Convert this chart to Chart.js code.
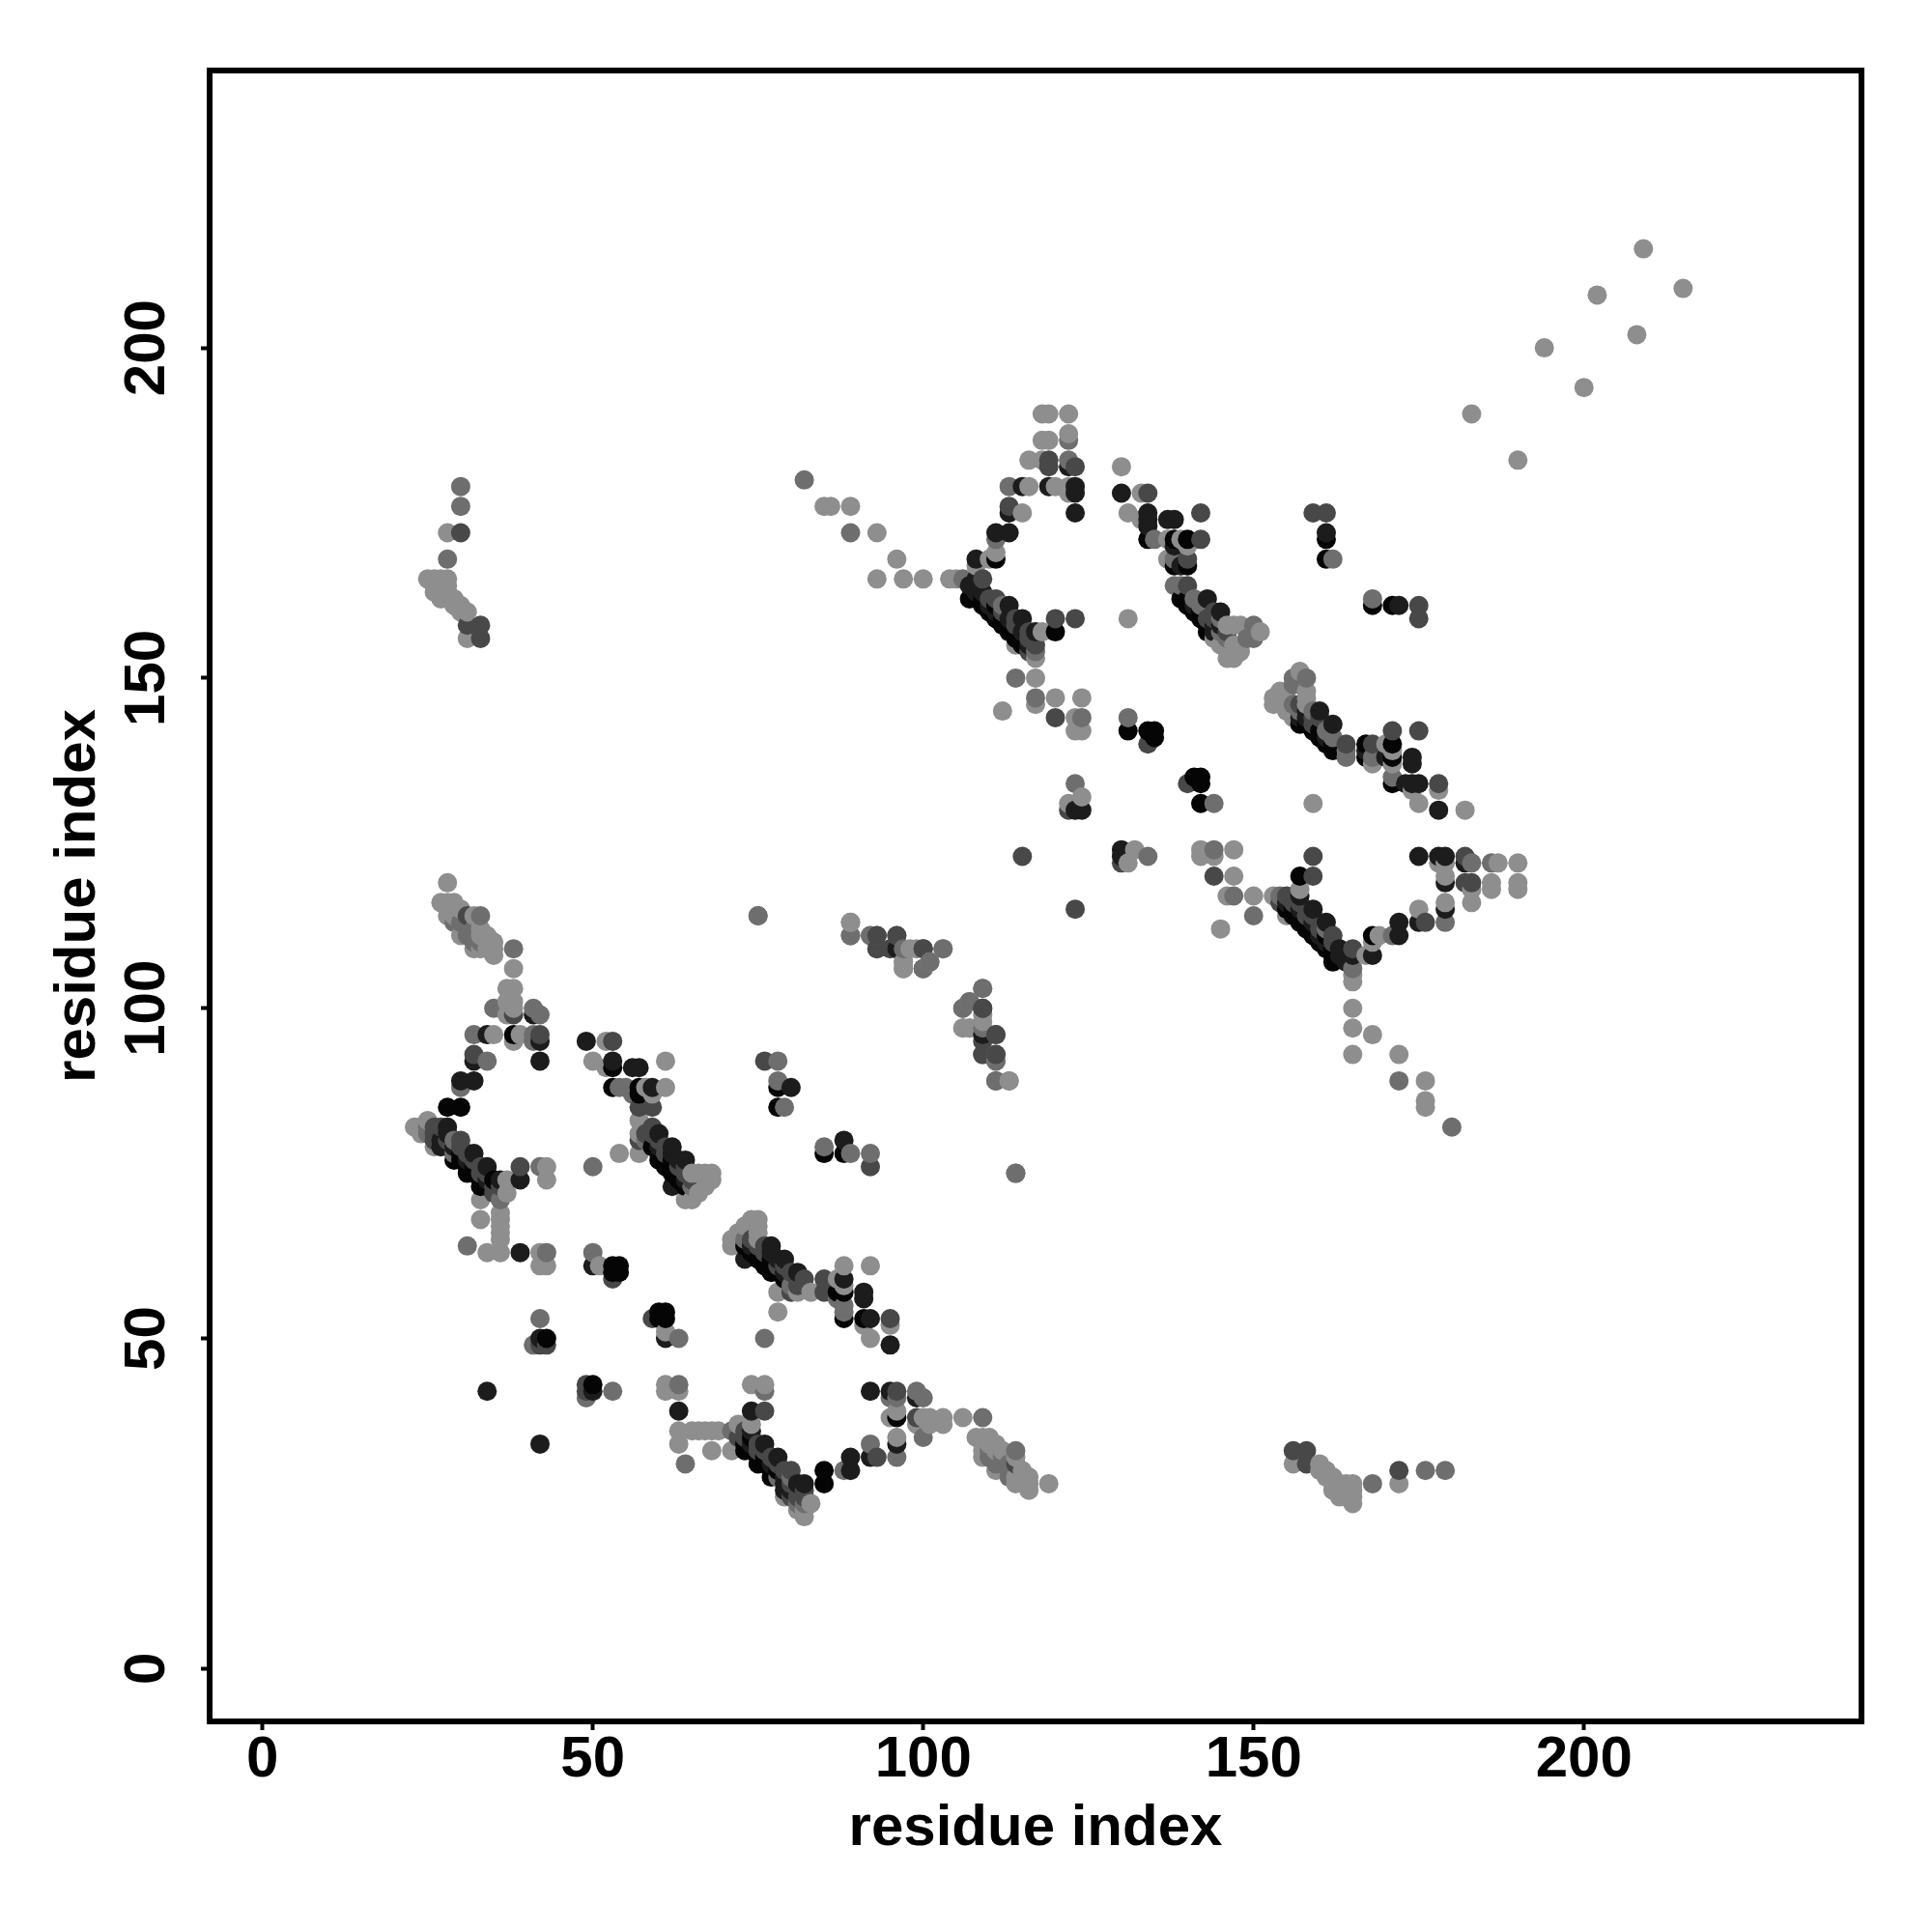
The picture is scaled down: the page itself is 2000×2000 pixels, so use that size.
<!DOCTYPE html>
<html>
<head>
<meta charset="utf-8">
<script src="https://cdn.jsdelivr.net/npm/chart.js@4"></script>
<style>
  html, body { margin: 0; padding: 0; background: #fff; }
  canvas { display: block; }
</style>
</head>
<body>
<canvas id="chart" width="2000" height="2000"></canvas>
<script>
// residue contacts [i, j], grouped by grey level
const lightContacts = [
  [28,119],[27,116],[28,116],[29,116],[28,114],[32,114],[30,111],[33,111],[35,110],[32,109],[34,109],[35,109],[35,108],[38,106],
  [29,114],[30,115],[33,112],[34,110],[34,111],[33,109],
  [37,103],[38,103],[37,101],[38,101],[38,100],[37,99],[35,96],[39,96],[38,95],
  [25,83],[23,82],[24,82],[24,81],[26,79],[37,72],[37,74],[43,76],[43,74],
  [36,69],[36,68],[36,67],[36,66],[36,65],[36,63],[33,68],[34,63],[42,63],[42,61],[43,61],[33,71],
  [52,95],[50,92],[52,91],[61,92],[59,87],[57,83],[57,81],[57,78],[54,78],[58,88],[61,88],
  [65,75],[66,75],[67,75],[68,75],[67,73],[64,71],[65,71],[66,72],[68,74],[51,61],
  [25,165],[26,165],[27,165],[28,165],[27,163],[28,162],[29,161],[30,160],[31,160],[31,156],[28,172],
  [26,164],[27,164],[28,164],[26,163],[28,163],[27,162],[29,162],[30,161],
  [85,176],[86,176],[89,176],[93,172],[96,168],[93,165],[97,165],[100,165],
  [89,113],[92,111],[97,107],[97,106],[98,109],[101,107],[103,109],[106,97],[107,97],[113,89],[109,99],
  [118,190],[119,190],[122,190],[122,187],[118,186],[119,186],[116,183],[118,183],[116,179],[120,179],[122,179],[122,178],[115,175],
  [111,169],[110,168],[108,167],[114,155],[117,153],[117,150],[117,146],[120,147],[124,147],[112,145],[123,144],[123,142],[124,142],
  [118,157],[131,159],[104,165],[105,165],[122,131],[124,132],
  [130,182],[133,178],[131,175],[133,174],[137,168],[140,170],[139,171],[137,171],
  [146,158],[147,158],[148,158],[147,155],[147,154],[146,153],[148,154],[147,153],[151,157],[145,155],[144,156],
  [183,190],[194,200],[202,208],[209,215]
];
const midContacts = [
  [30,113],[29,113],[32,111],[33,110],[33,114],[38,109],[35,100],[41,100],[42,99],[32,96],[41,96],[41,95],[34,92],[30,88],
  [31,112],[31,111],[32,112],[32,110],[31,113],
  [25,82],[25,81],[29,80],[29,78],[36,71],[42,76],[31,64],
  [50,76],[54,88],[55,88],[56,87],[65,73],[58,80],
  [43,63],[50,63],[42,53],[41,49],
  [78,92],[78,89],[79,85],
  [30,179],[30,176],[28,168],[82,180],[89,172],
  [75,114],[89,111],[93,111],[93,109],[96,111],[96,109],[100,106],[109,103],[107,101],[106,100],[109,97],[111,92],[111,89],[114,75],
  [122,186],[122,183],[113,179],[111,171],[106,165],[114,150],[117,147],[117,154],[123,134],[124,144],[131,144],[112,161],
  [135,171],[141,162],[139,164],[138,164],[150,156],[150,158],[146,156],[145,157],[149,156],[138,168],[162,168],[142,161],[145,159]
];
const darkContacts = [
  [31,114],[38,99],[42,96],[32,93],
  [26,82],[27,82],[26,81],[26,80],[30,80],[34,75],[35,73],[39,76],[35,72],[28,80],[33,75],[30,79],[31,78],[32,77],[33,76],[36,73],
  [53,95],[57,85],[59,85],[57,80],[58,81],[59,82],[61,78],[63,76],[64,75],[65,74],[59,81],[60,80],[61,79],[64,76],
  [53,59],[42,49],[43,49],
  [76,92],[31,158],[33,158],[33,156],[30,172],
  [95,109],[100,109],[109,100],[111,96],[109,93],[111,93],
  [119,183],[119,182],[123,182],[113,176],[111,162],[123,159],[120,159],[117,155],[120,144],[109,165],[122,130],[115,123],
  [110,162],[112,160],[114,158],[116,156],[114,159],[116,157],[116,154],
  [134,178],[142,175],[140,164],[142,171],[140,168],[143,159],[159,175],[161,175],[134,140],[144,159],[144,160],[146,157]
];
const nearBlackContacts = [
  [41,99],[34,96],[42,95],[32,92],[42,92],[30,89],[32,89],
  [28,82],[28,81],[27,79],[27,80],[32,78],[34,76],[36,74],[39,74],[39,63],[28,79],[29,79],[31,77],[34,74],
  [49,95],[53,92],[56,91],[57,91],[59,88],[60,81],[62,79],[64,77],[62,73],[60,79],[62,78],[63,77],[64,74],
  [42,50],[50,61],[34,42],[80,88],[109,96],
  [122,182],[115,179],[119,179],[113,175],[123,179],[123,178],[123,175],[111,172],[113,172],[108,168],[107,164],[113,161],[115,159],[117,157],[108,165],[123,130],[124,130],
  [108,163],[110,161],[109,163],[113,159],[115,157],[111,160],[116,155],
  [130,178],[134,175],[134,174],[134,173],[137,174],[138,174],[138,170],[139,167],[143,162],[144,157],[145,160],[161,172],[141,161],[144,158],[145,158]
];
const blackContacts = [
  [38,96],[28,85],[30,85],[29,77],[31,75],[33,73],[30,78],[32,76],[35,74],[30,77],[31,76],[32,75],[33,74],[34,73],
  [53,91],[53,88],[57,88],[57,87],[59,79],[61,76],[63,74],[60,77],[60,78],[62,75],[62,76],[62,77],[64,73],
  [43,50],[53,61],[54,61],[54,60],[53,60],[78,88],[78,85],
  [107,162],[108,162],[110,160],[112,158],[114,156],[109,161],[111,159],[113,157],[120,157],[111,168],
  [109,162],[111,161],[112,159],[113,158],[114,157],[115,156],[115,155],
  [131,142],[134,142],[135,142],[135,141],
  [134,171],[138,167],[140,167],[140,171],[138,171],[142,159],[140,162],[139,162],[140,161],[141,160],[143,157],[161,171],[161,168],[142,160],[143,158]
];
const greyLevels = [
  { contacts: lightContacts, color: '#8e8e8e' },
  { contacts: midContacts, color: '#6e6e6e' },
  { contacts: darkContacts, color: '#484848' },
  { contacts: nearBlackContacts, color: '#1c1c1c' },
  { contacts: blackContacts, color: '#050505' }
];
const tickValues = [0, 50, 100, 150, 200];
const axisTitle = 'residue index';

// the map is plotted both ways round, lower index first so later ones sit on top
const marks = [];
greyLevels.forEach(level => {
  level.contacts.forEach(([i, j]) => {
    marks.push({ x: i, y: j, color: level.color });
    marks.push({ x: j, y: i, color: level.color });
  });
});
marks.sort((a, b) => a.x - b.x || a.y - b.y);

const font = { family: '"Liberation Sans", Arial, sans-serif', size: 60, weight: 'bold' };

const boxPlugin = {
  id: 'box',
  afterDraw(chart) {
    const { ctx, chartArea: a } = chart;
    ctx.save();
    ctx.strokeStyle = '#000';
    ctx.lineWidth = 6;
    ctx.strokeRect(a.left, a.top, a.right - a.left, a.bottom - a.top);
    ctx.restore();
  }
};

const axis = {
  type: 'linear',
  min: -8,
  max: 242,
  afterBuildTicks: scale => { scale.ticks = tickValues.map(value => ({ value })); },
  grid: { drawOnChartArea: false, tickLength: 9, tickWidth: 4, tickColor: '#000' },
  border: { display: false },
  title: { display: true, text: axisTitle, color: '#000', font }
};

new Chart(document.getElementById('chart').getContext('2d'), {
  type: 'scatter',
  plugins: [boxPlugin],
  data: {
    datasets: [{
      data: marks,
      pointRadius: 10,
      pointBorderWidth: 0,
      pointBackgroundColor: marks.map(m => m.color)
    }]
  },
  options: {
    responsive: false,
    animation: false,
    devicePixelRatio: 1,
    layout: { padding: { top: 73, right: 73, left: 0, bottom: 0 } },
    plugins: { legend: { display: false }, tooltip: { enabled: false } },
    scales: {
      x: {
        ...axis,
        position: 'bottom',
        afterFit: scale => { scale.height = 218; },
        ticks: { color: '#000', font, padding: -5, maxRotation: 0, autoSkip: false },
        title: { ...axis.title, padding: { top: 0, bottom: 71 } }
      },
      y: {
        ...axis,
        position: 'left',
        afterFit: scale => { scale.width = 217; },
        ticks: { color: '#000', font, padding: 4, minRotation: 90, maxRotation: 90, crossAlign: 'center', autoSkip: false },
        title: { ...axis.title, padding: { top: 45, bottom: 0 } }
      }
    }
  }
});
</script>
</body>
</html>
